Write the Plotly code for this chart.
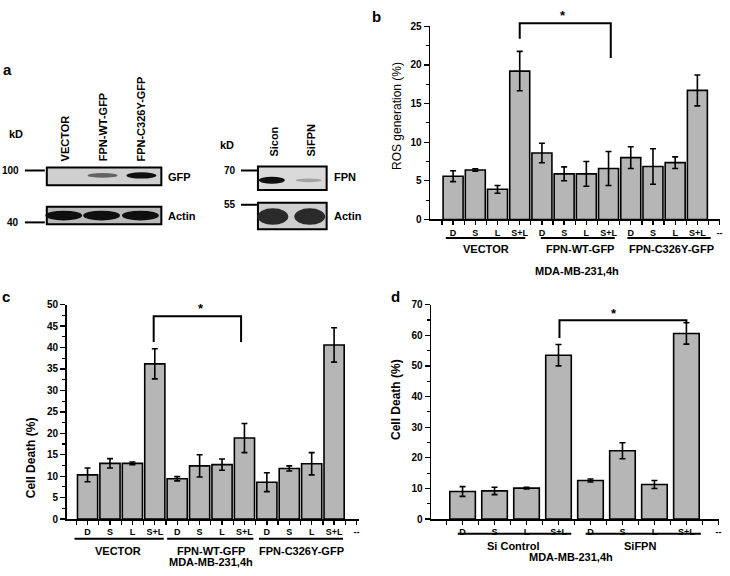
import plotly.graph_objects as go

W, H = 730, 576
FONT = "Arial, Liberation Sans, sans-serif"

# ---------------- data ----------------
cats_3grp = ["D", "S", "L", "S+L", "D", "S", "L", "S+L", "D", "S", "L", "S+L", "--"]
groups_3 = ["VECTOR", "FPN-WT-GFP", "FPN-C326Y-GFP"]

ros_vals = [5.6, 6.4, 3.9, 19.2, 8.6, 5.9, 5.9, 6.6, 8.0, 6.85, 7.35, 16.7]
ros_err = [0.7, 0.15, 0.5, 2.55, 1.27, 0.9, 1.6, 2.2, 1.4, 2.3, 0.75, 2.0]

death_c_vals = [10.3, 13.0, 13.0, 36.2, 9.4, 12.4, 12.7, 18.9, 8.6, 11.8, 12.9, 40.6]
death_c_err = [1.6, 1.1, 0.3, 3.5, 0.5, 2.6, 1.3, 3.4, 2.2, 0.6, 2.6, 4.0]

cats_2grp = ["D", "S", "L", "S+L", "D", "S", "L", "S+L", "--"]
groups_2 = ["Si Control", "SiFPN"]
death_d_vals = [9.0, 9.2, 10.1, 53.5, 12.6, 22.3, 11.3, 60.6]
death_d_err = [1.6, 1.2, 0.3, 3.5, 0.5, 2.6, 1.3, 3.5]

# western blot lanes / relative band intensities (0 = none, 1 = strong)
blot1_lanes = ["VECTOR", "FPN-WT-GFP", "FPN-C326Y-GFP"]
blot1_gfp = [0.0, 0.55, 1.0]
blot1_actin = [1.0, 1.0, 1.0]
blot2_lanes = ["Sicon", "SiFPN"]
blot2_fpn = [1.0, 0.2]
blot2_actin = [1.0, 1.0]

BAR = "#b6b6b6"

def px(x, y):
    return x / W, 1 - y / H

fig = go.Figure()

def add_bars(vals, errs, xa, ya, width):
    fig.add_trace(go.Bar(
        x=list(range(len(vals))), y=vals, xaxis=xa, yaxis=ya, width=width,
        marker=dict(color=BAR, line=dict(color="black", width=1.6)),
        error_y=dict(type="data", array=errs, color="black", thickness=1.6, width=3),
        showlegend=False, hoverinfo="skip"))

add_bars(ros_vals, ros_err, "x", "y", 0.9)
add_bars(death_c_vals, death_c_err, "x2", "y2", 0.9)
add_bars(death_d_vals, death_d_err, "x3", "y3", 0.8)

def xax(domain_px, rng, cats):
    return dict(domain=[domain_px[0] / W, domain_px[1] / W], range=rng,
                showline=True, linecolor="black", linewidth=1.6, zeroline=False,
                showgrid=False, tickmode="array", tickvals=list(range(len(cats))),
                ticktext=cats, ticks="outside", ticklen=4, tickwidth=1.3, tickcolor="black",
                minor=dict(ticks="outside", ticklen=4, tickwidth=1.3, tickcolor="black",
                           tick0=0.5, dtick=1, showgrid=False),
                tickfont=dict(family=FONT, size=9, color="black", weight="bold"),
                fixedrange=True)

def yax(domain_px, ymax, dt, mdt, anchor):
    return dict(domain=[1 - domain_px[1] / H, 1 - domain_px[0] / H], range=[0, ymax],
                anchor=anchor, showline=True, linecolor="black", linewidth=1.6,
                zeroline=False, showgrid=False, dtick=dt, tick0=0,
                ticks="outside", ticklen=5, tickwidth=1.3, tickcolor="black",
                minor=dict(ticks="outside", ticklen=3, tickwidth=1.1, tickcolor="black",
                           dtick=mdt, tick0=0, showgrid=False),
                tickfont=dict(family=FONT, size=10, color="black", weight="bold"),
                fixedrange=True)

fig.update_layout(
    width=W, height=H, margin=dict(l=0, r=0, t=0, b=0),
    paper_bgcolor="white", plot_bgcolor="rgba(0,0,0,0)", bargap=0,
    xaxis=dict(xax((432, 723), [-1.03, 12.02], cats_3grp), anchor="y"),
    yaxis=yax((20.7, 218), 25, 5, 2.5, "x"),
    xaxis2=dict(xax((67, 360), [-0.93, 12.09], cats_3grp), anchor="y2"),
    yaxis2=yax((305, 524), 50, 5, 2.5, "x2"),
    xaxis3=dict(xax((433, 722), [-0.98, 8.02], cats_2grp), anchor="y3"),
    yaxis3=yax((305, 524), 70, 10, 5, "x3"),
)

shapes = []
ann = []

def text(x, y, s, size=11, bold=True, xref="paper", yref="paper", angle=0,
         xanchor="center", yanchor="middle"):
    ann.append(dict(x=x, y=y, xref=xref, yref=yref, text=s, showarrow=False,
                    textangle=angle, xanchor=xanchor, yanchor=yanchor,
                    font=dict(family=FONT, size=size, color="black",
                              weight="bold" if bold else "normal")))

# group underlines and labels
def groups(xref, names, spans, line_y, lab_y, lab_x, main_y, main_x, gsize=11):
    for (a, b), name, lx in zip(spans, names, lab_x):
        shapes.append(dict(type="line", xref=xref, yref="paper", x0=a, x1=b,
                           y0=1 - line_y / H, y1=1 - line_y / H,
                           line=dict(color="black", width=2)))
        text(lx, 1 - lab_y / H, name, size=gsize, xref=xref)
    text(main_x, 1 - main_y / H, "MDA-MB-231,4h", size=gsize, xref=xref)

groups("x", groups_3, [(-0.33, 3.25), (3.95, 7.28), (7.85, 11.6)], 237, 248,
       [1.5, 5.7, 9.85], 271, 5.6)
groups("x2", groups_3, [(-0.58, 3.4), (3.55, 7.4), (7.65, 11.4)], 544, 557,
       [1.35, 5.5, 9.55], 568, 5.5)
groups("x3", groups_2, [(-0.15, 3.4), (3.85, 7.45)], 539, 551,
       [1.6, 5.55], 563, 3.4)

# significance brackets (y in data units, mapped through axis domain)
def bracket(xref, ydomref, ymax, x0, x1, ytop, yl, yr, xstar, ystar):
    f = lambda v: v / ymax
    shapes.append(dict(type="path", xref=xref, yref=ydomref,
                       path=f"M {x0},{f(yl)} L {x0},{f(ytop)} L {x1},{f(ytop)} L {x1},{f(yr)}",
                       line=dict(color="black", width=2)))
    text(xstar, f(ystar), "*", size=13, xref=xref, yref=ydomref)

bracket("x", "y domain", 25, 3, 7.1, 25.4, 23.4, 20.9, 4.93, 26.4)
bracket("x2", "y2 domain", 50, 2.95, 6.85, 47.3, 41.3, 41.3, 5.07, 49.2)
bracket("x3", "y3 domain", 70, 3.03, 7.0, 64.9, 59.1, 64.2, 4.74, 67.0)

# y-axis titles
text(*px(398, 112), "ROS generation (%)", size=12, bold=False, angle=-90)
text(*px(32, 461), "Cell Death (%)", size=12, angle=-90)
text(*px(397, 402), "Cell Death (%)", size=12, angle=-90)

# panel letters
text(*px(8, 65), "a", size=15)
text(*px(378, 11), "b", size=15)
text(*px(6, 297), "c", size=15)
text(*px(397, 297), "d", size=15)

# ---------------- panel a : western blots ----------------
def rect(x0, y0, x1, y1, fill, lw=2):
    a = px(x0, y0); b = px(x1, y1)
    shapes.append(dict(type="rect", xref="paper", yref="paper", x0=a[0], y0=b[1],
                       x1=b[0], y1=a[1], fillcolor=fill, line=dict(color="black", width=lw)))

def band(cx, cy, w, h, intensity):
    if intensity <= 0:
        return
    g = int(200 - 185 * intensity)
    col = f"rgb({g},{g},{g})"
    a = px(cx - w / 2, cy - h / 2); b = px(cx + w / 2, cy + h / 2)
    shapes.append(dict(type="circle", xref="paper", yref="paper", x0=a[0], y0=b[1],
                       x1=b[0], y1=a[1], fillcolor=col, line=dict(width=0)))

def marker_line(x0, x1, y, lab, lx):
    a = px(x0, y); b = px(x1, y)
    shapes.append(dict(type="line", xref="paper", yref="paper", x0=a[0], x1=b[0],
                       y0=a[1], y1=a[1], line=dict(color="black", width=2)))
    text(*px(lx, y), lab, size=10, xanchor="right")

# blot 1
text(*px(16, 131), "kD", size=11)
lane1_x = [65, 103, 142]
for lx, name in zip(lane1_x, blot1_lanes):
    text(*px(lx, 161), name, size=11, angle=-90, yanchor="bottom")
rect(47, 165, 162, 183, "#cfcfcf")
for lx, it in zip(lane1_x, blot1_gfp):
    band(lx, 173, 30, 2.5 + 4 * it, it)
text(*px(167, 175), "GFP", size=11, xanchor="left")
rect(47, 205, 162, 223, "#b9b9b9")
for lx, it in zip(lane1_x, blot1_actin):
    band(lx - 1, 214, 37, 10, it)
text(*px(167, 214), "Actin", size=11, xanchor="left")
marker_line(25, 45, 168, "100", 21)
marker_line(25, 45, 221, "40", 21)

# blot 2
text(*px(228, 142), "kD", size=11)
lane2_x = [275, 312]
for lx, name in zip(lane2_x, blot2_lanes):
    text(*px(lx, 156), name, size=11, angle=-90, yanchor="bottom")
rect(259, 164, 328, 188, "#dadada")
for lx, it in zip(lane2_x, blot2_fpn):
    band(lx - 2, 178, 26, 3 + 4 * it, it)
text(*px(333, 175), "FPN", size=11, xanchor="left")
rect(259, 201, 328, 228, "#cfcfcf")
for lx, it in zip(lane2_x, blot2_actin):
    band(lx - 1, 215, 31, 17, it * 0.85)
text(*px(333, 214), "Actin", size=11, xanchor="left")
marker_line(242, 258, 168, "70", 239)
marker_line(242, 258, 203, "55", 239)

fig.update_layout(shapes=shapes, annotations=ann)
fig.write_html("out.html", config={"displayModeBar": False, "staticPlot": True},
               post_script="document.body.style.margin='0';document.body.style.overflow='hidden';")
